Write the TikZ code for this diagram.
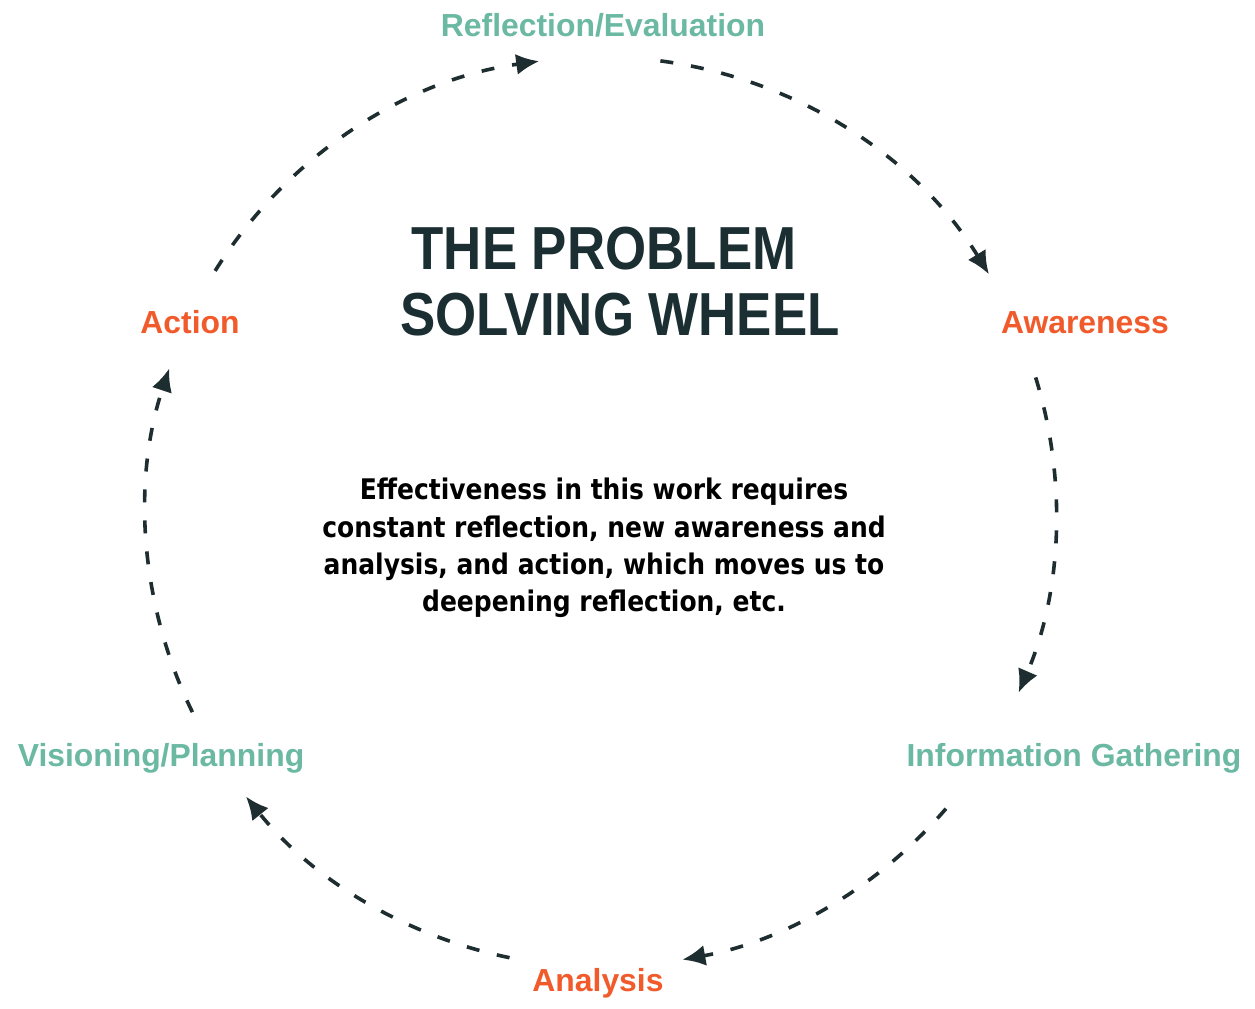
\documentclass[tikz,border=0pt]{standalone}
\usepackage{fontspec}
\usetikzlibrary{arrows.meta}
\newfontfamily\labelfont{Liberation Sans}[BoldFont={* Bold}]
\newfontfamily\titlefont{Liberation Sans Bold}[FakeStretch=0.87]
\newfontfamily\bodyfont{DejaVu Sans Bold}[FakeStretch=0.88]
\definecolor{teal}{HTML}{6BB8A3}
\definecolor{orng}{HTML}{F15A2B}
\definecolor{ttl}{HTML}{1B2F33}
\definecolor{arr}{HTML}{1E2D30}
\tikzset{
  lab/.style={anchor=base, inner sep=0pt, font={\labelfont\bfseries\fontsize{32}{36}\selectfont}},
  tlab/.style={lab, text=teal},
  olab/.style={lab, text=orng},
  ttlline/.style={anchor=base, inner sep=0pt, text=ttl, font={\titlefont\fontsize{61}{66}\selectfont}},
  body/.style={inner sep=0pt, align=center, text=black, font={\bodyfont\fontsize{28.5}{37.5}\selectfont}},
  wheel/.style={draw=arr, line width=3.6bp, dash pattern=on 13bp off 18bp, -{Latex[length=23bp,width=21bp]}},
}
\begin{document}
\begin{tikzpicture}[x=1bp,y=1bp]
\useasboundingbox (0,0) rectangle (1255,1009);
\fill[white] (0,0) rectangle (1255,1009);
\coordinate (c) at (601,497);

\node[tlab] (refl) at (603,972) {Reflection/Evaluation};
\node[olab] (action) at (190,675) {Action};
\node[olab] (aware) at (1085,675) {Awareness};
\node[tlab] (info) at (1074,242) {Information Gathering};
\node[tlab] (vision) at (161,242) {Visioning/Planning};
\node[olab] (analysis) at (598,17) {Analysis};

\node[ttlline] (t1) at (604,739) {THE PROBLEM};
\node[ttlline] (t2) at (620,673) {SOLVING WHEEL};

\node[body] (txt) at (604,461) {Effectiveness in this work requires\\constant reflection, new awareness and\\analysis, and action, which moves us to\\deepening reflection, etc.};

\path (c) ++(148:455bp) coordinate (s1);
\path (c) ++(82.5:455bp) coordinate (s2);
\path (c) ++(17.2:455bp) coordinate (s3);
\path (c) ++(-40.7:455bp) coordinate (s4);
\path (c) ++(-101.6:455bp) coordinate (s5);
\path (c) ++(-153.9:455bp) coordinate (s6);

\draw[wheel] (s1) arc[start angle=148, end angle=97.8, radius=455bp];
\draw[wheel] (s2) arc[start angle=82.5, end angle=31.5, radius=455bp];
\draw[wheel] (s3) arc[start angle=17.2, end angle=-23.4, radius=455bp];
\draw[wheel] (s4) arc[start angle=-40.7, end angle=-79.7, radius=455bp];
\draw[wheel] (s5) arc[start angle=-101.6, end angle=-141.3, radius=455bp];
\draw[wheel] (s6) arc[start angle=-153.9, end angle=-198.4, radius=455bp];
\end{tikzpicture}
\end{document}
